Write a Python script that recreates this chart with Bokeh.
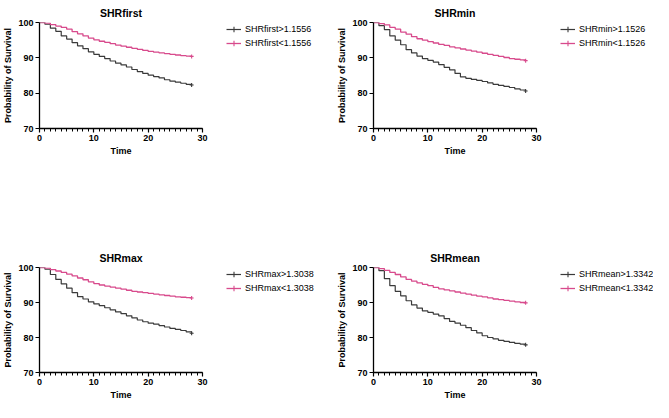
from bokeh.plotting import figure
from bokeh.layouts import column, row
from bokeh.models import Range1d, FixedTicker, Legend, LegendItem
from bokeh.embed import file_html
from bokeh.resources import INLINE

days = list(range(29))

titles = ["SHRfirst", "SHRmin", "SHRmax", "SHRmean"]
high_labels = ["SHRfirst>1.1556", "SHRmin>1.1526", "SHRmax>1.3038", "SHRmean>1.3342"]
low_labels = ["SHRfirst<1.1556", "SHRmin<1.1526", "SHRmax<1.3038", "SHRmean<1.3342"]
x_ticks = [0, 10, 20, 30]
y_ticks = [70, 80, 90, 100]

shrfirst_high = [100, 99.5, 98.4, 97.5, 96.2, 95.3, 94.3, 93.4, 92.6, 91.7, 91.0, 90.4, 89.8, 89.1, 88.5,
                 88.0, 87.4, 86.7, 86.1, 85.6, 85.1, 84.7, 84.3, 83.8, 83.4, 83.1, 82.8, 82.5, 82.3]
shrfirst_low = [100, 99.8, 99.4, 99.0, 98.6, 98.1, 97.4, 96.8, 96.2, 95.6, 95.1, 94.7, 94.4, 94.0, 93.6,
                93.3, 93.0, 92.7, 92.4, 92.1, 91.8, 91.6, 91.4, 91.2, 91.0, 90.8, 90.6, 90.5, 90.4]
shrmin_high = [100, 99.1, 98.0, 96.2, 95.0, 93.7, 92.3, 91.4, 90.5, 89.8, 89.3, 88.8, 88.1, 87.3, 86.6,
               85.6, 84.6, 84.2, 83.9, 83.6, 83.3, 82.9, 82.5, 82.2, 81.9, 81.6, 81.2, 80.9, 80.6]
shrmin_low = [100, 99.7, 99.3, 98.6, 98.1, 97.3, 96.7, 96.0, 95.4, 95.0, 94.6, 94.2, 93.8, 93.5, 93.1,
              92.8, 92.5, 92.2, 91.9, 91.6, 91.3, 91.0, 90.7, 90.4, 90.1, 89.8, 89.6, 89.4, 89.2]
shrmax_high = [100, 99.5, 98.0, 96.6, 95.3, 94.1, 92.8, 91.7, 91.0, 90.2, 89.6, 89.1, 88.5, 87.9, 87.3,
               86.8, 86.2, 85.6, 85.0, 84.5, 84.1, 83.8, 83.4, 83.0, 82.6, 82.3, 82.0, 81.6, 81.2]
shrmax_low = [100, 99.8, 99.4, 99.0, 98.6, 98.1, 97.6, 97.0, 96.5, 95.9, 95.4, 95.0, 94.7, 94.4, 94.1,
              93.8, 93.5, 93.2, 93.0, 92.8, 92.6, 92.4, 92.2, 92.0, 91.8, 91.6, 91.5, 91.4, 91.3]
shrmean_high = [100, 99.1, 96.8, 94.8, 93.2, 91.9, 90.5, 89.3, 88.4, 87.6, 87.2, 86.7, 86.2, 85.4, 84.6,
                84.1, 83.5, 82.8, 82.0, 81.3, 80.5, 80.0, 79.6, 79.2, 78.9, 78.6, 78.3, 78.1, 77.9]
shrmean_low = [100, 99.7, 99.2, 98.6, 98.0, 97.3, 96.6, 96.1, 95.6, 95.2, 94.8, 94.3, 93.9, 93.6, 93.3,
               93.0, 92.7, 92.4, 92.1, 91.8, 91.6, 91.3, 91.0, 90.8, 90.6, 90.4, 90.2, 90.0, 89.9]

highs = [shrfirst_high, shrmin_high, shrmax_high, shrmean_high]
lows = [shrfirst_low, shrmin_low, shrmax_low, shrmean_low]

BLACK = "#3a3a3a"
PINK = "#d84a8c"
FONT = "Liberation Sans"
FRAME_W = 166
FRAME_H = 106
LEFT = 36
RIGHT = 24
TOP = 22


def draw_curves(p, hi, lo):
    r_hi = p.step(days, hi, mode="after", line_color=BLACK, line_width=1.2)
    m_hi = p.scatter([days[-1]], [hi[-1]], marker="cross", size=4,
                     line_color=BLACK, line_width=1.1)
    r_lo = p.step(days, lo, mode="after", line_color=PINK, line_width=1.3)
    m_lo = p.scatter([days[-1]], [lo[-1]], marker="cross", size=4,
                     line_color=PINK, line_width=1.1)
    return r_hi, m_hi, r_lo, m_lo


def make_plot(i, height, bottom):
    width = LEFT + FRAME_W + RIGHT
    p = figure(width=width, height=height, x_range=Range1d(0, 30), y_range=Range1d(70, 100),
               output_backend="svg", toolbar_location=None, title=titles[i],
               min_border_left=LEFT, min_border_right=RIGHT,
               min_border_top=TOP, min_border_bottom=bottom)
    p.title.align = "center"
    p.title.text_font = FONT
    p.title.text_font_size = "10.5px"
    p.title.text_font_style = "bold"
    p.title.text_color = "black"
    p.title.standoff = 8
    p.outline_line_color = None
    p.grid.visible = False

    xa = p.xaxis[0]
    xa.ticker = FixedTicker(ticks=x_ticks, minor_ticks=list(range(0, 31)))
    xa.axis_label = "Time"
    ya = p.yaxis[0]
    ya.ticker = FixedTicker(ticks=y_ticks)
    ya.axis_label = "Probability of Survival"
    for ax in (xa, ya):
        ax.axis_line_color = "black"
        ax.axis_line_width = 1.3
        ax.major_tick_line_color = "black"
        ax.major_tick_line_width = 1.2
        ax.major_tick_in = 0
        ax.major_tick_out = 4
        ax.minor_tick_line_color = "black"
        ax.minor_tick_line_width = 1
        ax.minor_tick_in = 0
        ax.major_label_text_font = FONT
        ax.major_label_text_font_size = "9px"
        ax.major_label_text_font_style = "bold"
        ax.major_label_text_color = "black"
        ax.major_label_standoff = 2
        ax.axis_label_text_font = FONT
        ax.axis_label_text_font_size = "9px"
        ax.axis_label_text_font_style = "bold"
        ax.axis_label_text_color = "black"
        ax.axis_label_standoff = 2
    xa.minor_tick_out = 3
    ya.minor_tick_out = 0

    draw_curves(p, highs[i], lows[i])
    return p


def make_legend(i, width, height, bottom):
    # separate figure that only shows the legend, beside the plot
    q = figure(width=width, height=height, x_range=Range1d(0, 1), y_range=Range1d(0, 1),
               output_backend="svg", toolbar_location=None,
               min_border_left=0, min_border_right=0, min_border_top=TOP,
               min_border_bottom=bottom)
    q.axis.visible = False
    q.grid.visible = False
    q.outline_line_color = None
    r_hi, m_hi, r_lo, m_lo = draw_curves(q, highs[i], lows[i])
    legend = Legend(items=[LegendItem(label=high_labels[i], renderers=[r_hi, m_hi]),
                           LegendItem(label=low_labels[i], renderers=[r_lo, m_lo])],
                    location="top_left")
    legend.margin = 0
    legend.padding = 0
    legend.spacing = 0
    legend.border_line_color = None
    legend.background_fill_alpha = 0
    legend.glyph_width = 15
    legend.glyph_height = 14
    legend.label_height = 14
    legend.label_standoff = 4
    legend.label_text_font = FONT
    legend.label_text_font_size = "9px"
    legend.label_text_color = "black"
    q.add_layout(legend, "center")
    return q


W1, W2 = 334, 319
PW = LEFT + FRAME_W + RIGHT
B_TOP, B_BOT = 117, 29
H_TOP = TOP + FRAME_H + B_TOP
H_BOT = TOP + FRAME_H + B_BOT

top_row = row(make_plot(0, H_TOP, B_TOP), make_legend(0, W1 - PW, H_TOP, B_TOP),
              make_plot(1, H_TOP, B_TOP), make_legend(1, W2 - PW, H_TOP, B_TOP))
bottom_row = row(make_plot(2, H_BOT, B_BOT), make_legend(2, W1 - PW, H_BOT, B_BOT),
                 make_plot(3, H_BOT, B_BOT), make_legend(3, W2 - PW, H_BOT, B_BOT))
layout = column(top_row, bottom_row)

open("out.html", "w").write(file_html(layout, INLINE))
